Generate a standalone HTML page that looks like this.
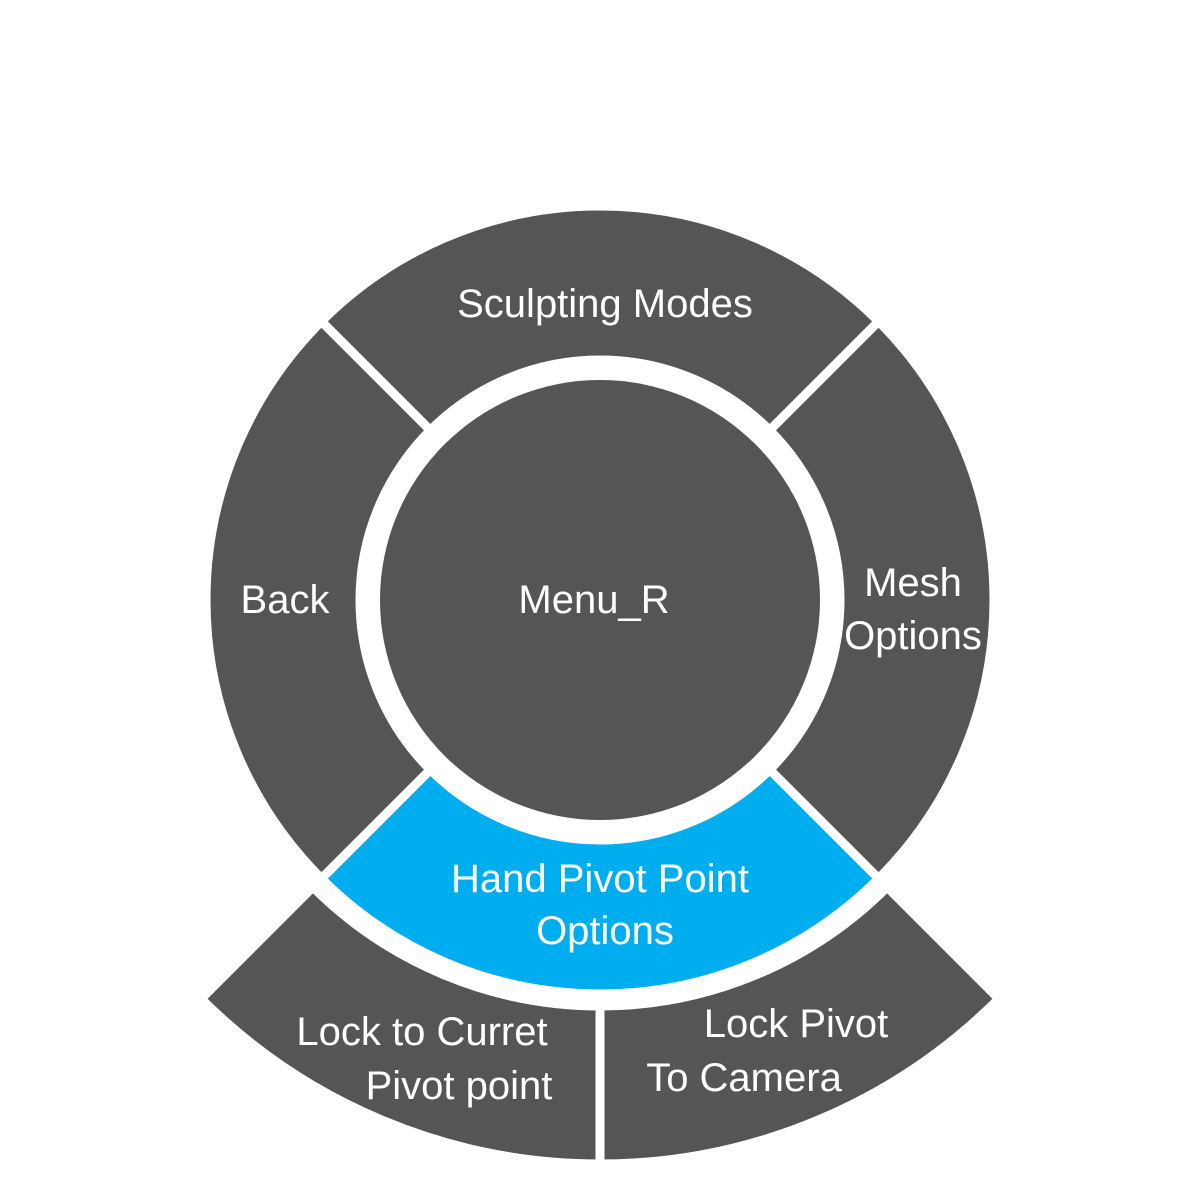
<!DOCTYPE html>
<html><head><meta charset="utf-8"><style>
html,body{margin:0;padding:0;background:#fff;}
svg{display:block;}
text{font-family:"Liberation Sans",sans-serif;font-size:40px;fill:#fff;text-anchor:middle;}
</style></head><body>
<svg width="1200" height="1200" viewBox="0 0 1200 1200">
<g fill="#545554" stroke="#fff" stroke-width="9" stroke-linejoin="miter">
<path d="M321.4,321.4 A394,394 0 0 1 878.6,321.4 L769.7,430.3 A240,240 0 0 0 430.3,430.3 Z"/>
<path d="M878.6,321.4 A394,394 0 0 1 878.6,878.6 L769.7,769.7 A240,240 0 0 0 769.7,430.3 Z"/>
<path d="M878.6,878.6 A394,394 0 0 1 321.4,878.6 L430.3,769.7 A240,240 0 0 0 769.7,769.7 Z" fill="#00adee"/>
<path d="M321.4,878.6 A394,394 0 0 1 321.4,321.4 L430.3,430.3 A240,240 0 0 0 430.3,769.7 Z"/>
<path d="M998.8,998.8 A564,564 0 0 1 600,1164 L600,1006 A406,406 0 0 0 887.1,887.1 Z"/>
<path d="M600,1164 A564,564 0 0 1 201.2,998.8 L312.9,887.1 A406,406 0 0 0 600,1006 Z"/>
</g>
<circle cx="600" cy="600" r="220" fill="#545554"/>
<text x="605" y="317">Sculpting Modes</text>
<text x="285" y="613">Back</text>
<text x="594" y="613">Menu_R</text>
<text x="913" y="596">Mesh</text>
<text x="913" y="649">Options</text>
<text x="600" y="892">Hand Pivot Point</text>
<text x="605" y="944">Options</text>
<text x="422" y="1045">Lock to Curret</text>
<text x="459" y="1099">Pivot point</text>
<text x="796" y="1037">Lock Pivot</text>
<text x="744" y="1091">To Camera</text>
</svg>
</body></html>
